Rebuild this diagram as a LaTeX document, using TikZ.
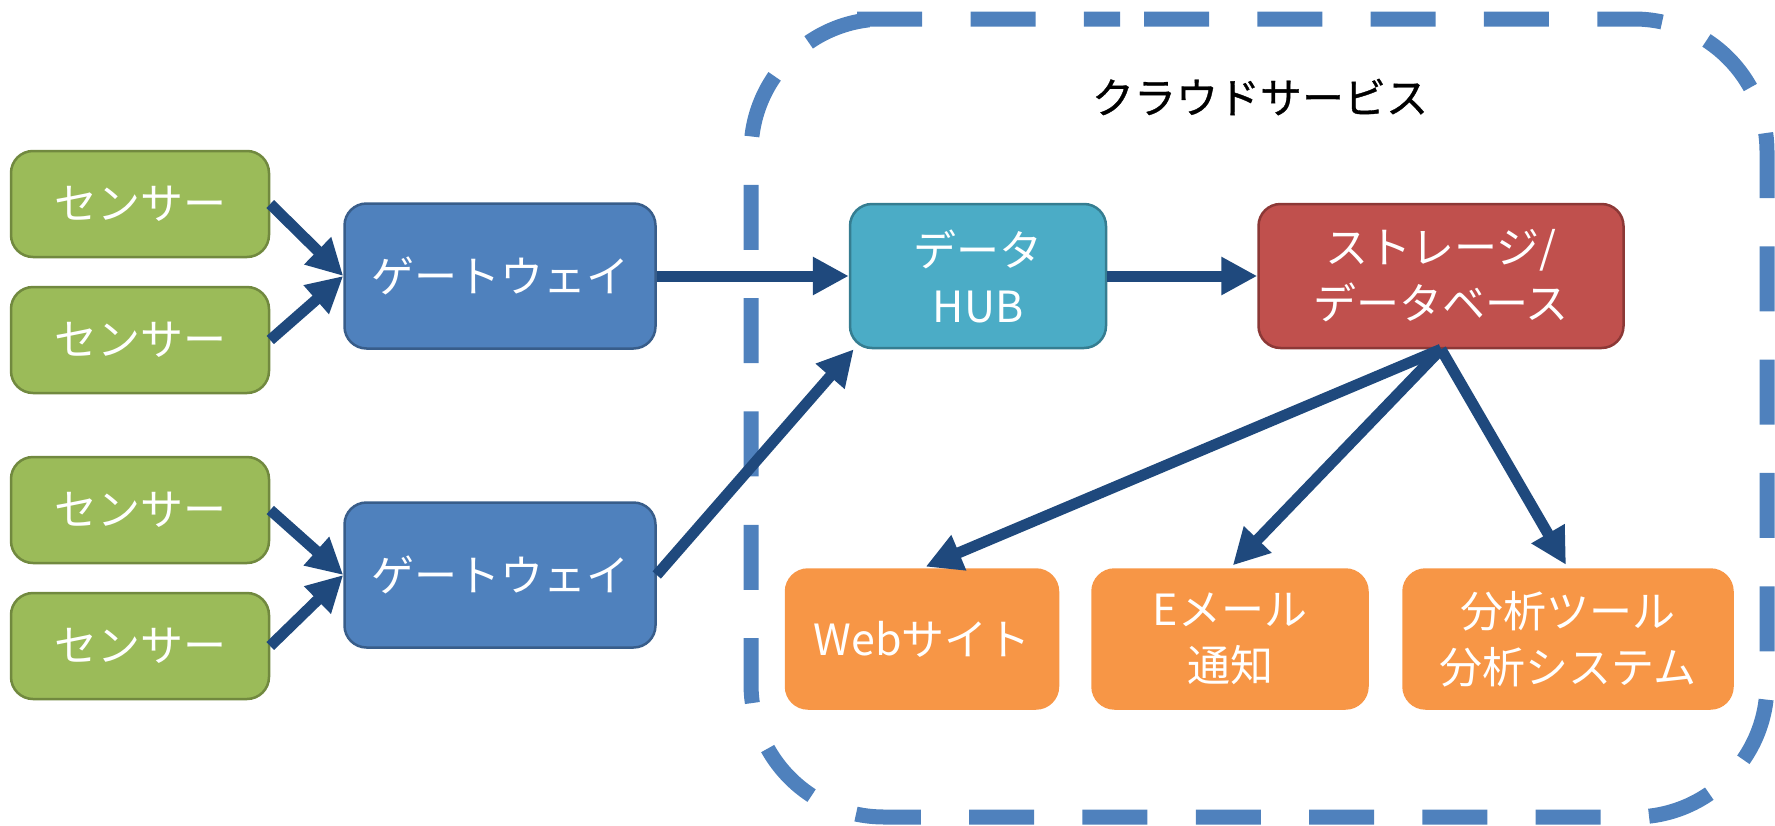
\documentclass[tikz,border=0pt]{standalone}
\usepackage{fontspec}
\setmainfont{Noto Sans CJK JP}
\newfontfamily\labelfont[FakeBold=0.8]{Noto Sans CJK JP}
\usetikzlibrary{arrows.meta}

\definecolor{sensorfill}{HTML}{9BBB59}
\definecolor{sensorline}{HTML}{71893F}
\definecolor{gwfill}{HTML}{4F81BD}
\definecolor{gwline}{HTML}{385D8A}
\definecolor{hubfill}{HTML}{4BACC6}
\definecolor{hubline}{HTML}{357D91}
\definecolor{dbfill}{HTML}{C0504D}
\definecolor{dbline}{HTML}{8C3836}
\definecolor{outfill}{HTML}{F79646}
\definecolor{arrowblue}{HTML}{1F497D}
\definecolor{cloudblue}{HTML}{4F81BD}

\tikzset{
  box/.style={rounded corners=22pt, line width=2.5pt, inner sep=0pt,
    align=center, text=white, font=\fontsize{43pt}{56pt}\selectfont},
  sensor/.style={box, fill=sensorfill, draw=sensorline,
    minimum width=258pt, minimum height=106pt},
  gateway/.style={box, fill=gwfill, draw=gwline,
    minimum width=311pt, minimum height=145pt},
  hubbox/.style={box, fill=hubfill, draw=hubline,
    minimum width=256pt, minimum height=144pt},
  dbbox/.style={box, fill=dbfill, draw=dbline,
    minimum width=365pt, minimum height=144pt},
  outbox/.style={box, fill=outfill, draw=outfill,
    minimum height=139pt},
  flow/.style={draw=arrowblue, line width=11pt,
    -{Triangle[length=36pt, width=36pt]}},
  % 30 whole dash periods fit the outline, so the pattern closes cleanly
  cloudline/.style={draw=cloudblue, line width=15pt,
    dash pattern=on 65pt off 48.32pt, dash phase=89.3pt,
    rounded corners=133pt}
}

\begin{document}
\begin{tikzpicture}[x=1pt, y=-1pt]
  \useasboundingbox (0,0) rectangle (1775,825);

  % cloud service boundary
  \draw[cloudline] (987,19) -- (1767,19) -- (1767,817) -- (751,817)
    -- (751,19) -- cycle;
  \node[font=\labelfont\fontsize{42pt}{50pt}\selectfont, text=black] (cloud)
    at (1260,97) {クラウドサービス};

  % sensors and gateways
  \node[sensor] (s1) at (140,204) {センサー};
  \node[sensor] (s2) at (140,340) {センサー};
  \node[sensor] (s3) at (140,510) {センサー};
  \node[sensor] (s4) at (140,646) {センサー};
  \node[gateway] (g1) at (500,276) {ゲートウェイ};
  \node[gateway] (g2) at (500,575) {ゲートウェイ};

  % cloud side
  \node[hubbox] (hub) at (978,276) {データ\\HUB};
  \node[dbbox] (st) at (1441,276) {ストレージ/\\データベース};
  \node[outbox, minimum width=272pt] (web) at (922,639) {Webサイト};
  \node[outbox, minimum width=275pt] (mail) at (1230,639) {Eメール\\通知};
  \node[outbox, minimum width=329pt] (ana) at (1568,639) {分析ツール\\分析システム};

  % connectors
  \draw[flow] (s1.east) -- (g1.west);
  \draw[flow] (s2.east) -- (g1.west);
  \draw[flow] (s3.east) -- (g2.west);
  \draw[flow] (s4.east) -- (g2.west);
  \draw[flow] (g1.east) -- (hub.west);
  \draw[flow] (g2.east) -- ([xshift=5pt]hub.south west);
  \draw[flow] (hub.east) -- (st.west);
  \draw[flow, shorten >=4pt] (st.south) -- (web.north);
  \draw[flow, shorten >=4pt] (st.south) -- (mail.north);
  \draw[flow, shorten >=4pt] (st.south) -- (ana.north);
\end{tikzpicture}
\end{document}
